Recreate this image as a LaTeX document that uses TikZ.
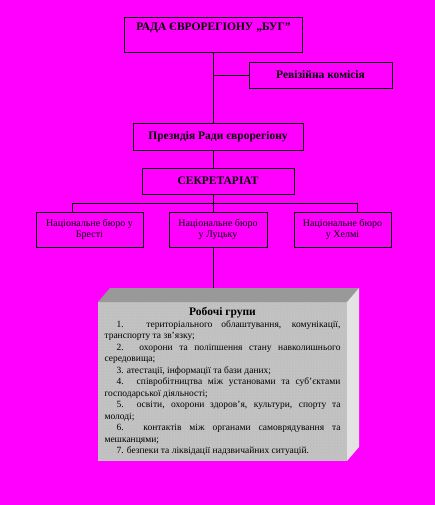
\documentclass[tikz,border=0pt]{standalone}
\usepackage{fontspec}
\setmainfont{Liberation Serif}
\usepackage{xcolor}
\usetikzlibrary{positioning, patterns}

\definecolor{bgpink}{HTML}{FF00FF}
\definecolor{grpfront}{HTML}{C0C0C0}
\definecolor{grptop}{HTML}{999999}
\definecolor{grpside}{HTML}{E3E3E3}
\definecolor{grpdot}{HTML}{D6D6D6}

\begin{document}
\begin{tikzpicture}[
        x=1pt, y=-1pt,
        node distance=18pt and 26pt,
        box/.style={rectangle, draw=black, line width=0.9pt, align=center, inner sep=2pt, outer sep=0pt},
        head/.style={box, font=\fontsize{11.5}{13}\selectfont\bfseries},
        bureau/.style={box, minimum height=35pt, font=\fontsize{10}{11.5}\selectfont},
        grp/.style={rectangle, minimum width=249pt, minimum height=159pt, text width=236pt, inner xsep=6.5pt, outer sep=0pt,
            align=justify, preaction={fill=grpfront}, pattern=dots, pattern color=grpdot, font=\fontsize{9.5}{11.5}\selectfont},
        link/.style={line width=0.9pt}
    ]
        \fill[bgpink] (0,0) rectangle (435,505);

        \node[head, minimum width=178pt, text height=11pt, text depth=18pt, inner ysep=3pt] (rada) at (213.5,34.5) {РАДА ЄВРОРЕГІОНУ „БУГ"};
        \node[head, minimum width=143pt, minimum height=26pt] (revizia) at (320.5,75) {Ревізійна комісія};
        \node[head, minimum width=170pt, minimum height=27pt] (prezydia) at (218,136.5) {Президія Ради єврорегіону};
        \node[head, minimum width=152pt, minimum height=26pt, below=of prezydia] (sekretariat) {СЕКРЕТАРІАТ};
        \node[bureau, minimum width=98pt, below=of sekretariat] (lutsk) {Національне бюро\\у Луцьку};
        \node[bureau, minimum width=107pt, left=of lutsk] (brest) {Національне бюро у\\Бресті};
        \node[bureau, minimum width=97pt, right=27pt of lutsk] (helm) {Національне бюро\\у Хелмі};

        % working groups, drawn as a block
        \node[grp] (groups) at (222.5,381.5) {\parindent=0pt
            {\centering\fontsize{11.5}{13}\selectfont\bfseries Робочі групи\par}
            \hspace*{12pt}1. територіального облаштування, комунікації,\linebreak транспорту та зв'язку;\par
            \hspace*{12pt}2. охорони та поліпшення стану навколишнього\linebreak середовища;\par
            \hspace*{12pt}3. атестації, інформації та бази даних;\par
            \hspace*{12pt}4. співробітництва між установами та суб'єктами\linebreak господарської діяльності;\par
            \hspace*{12pt}5. освіти, охорони здоров'я, культури, спорту та\linebreak молоді;\par
            \hspace*{12pt}6. контактів між органами самоврядування та\linebreak мешканцями;\par
            \hspace*{12pt}7. безпеки та ліквідації надзвичайних ситуацій.\par};
        \fill[grptop] (groups.north west) -- ++(12,-14) coordinate (topnw) -- ++(249,0) -- (groups.north east) -- cycle;
        \fill[grpside] (groups.north east) -- ++(12,-14) -- ++(0,159) -- (groups.south east) -- cycle;

        \coordinate (busl) at (72,203);
        \coordinate (busr) at (357,203);

        \draw[link] (rada.south) -- (rada.south |- prezydia.north);
        \draw[link] (rada.south |- revizia.west) -- (revizia.west);
        \draw[link] (rada.south |- prezydia.south) -- (rada.south |- sekretariat.north);
        \draw[link] (rada.south |- sekretariat.south) -- (rada.south |- lutsk.north);
        \draw[link] (brest.north -| busl) -- (busl) -- (busr) -- (helm.north -| busr);
        \draw[link] (rada.south |- lutsk.south) -- (rada.south |- topnw);
    \end{tikzpicture}
\end{document}
